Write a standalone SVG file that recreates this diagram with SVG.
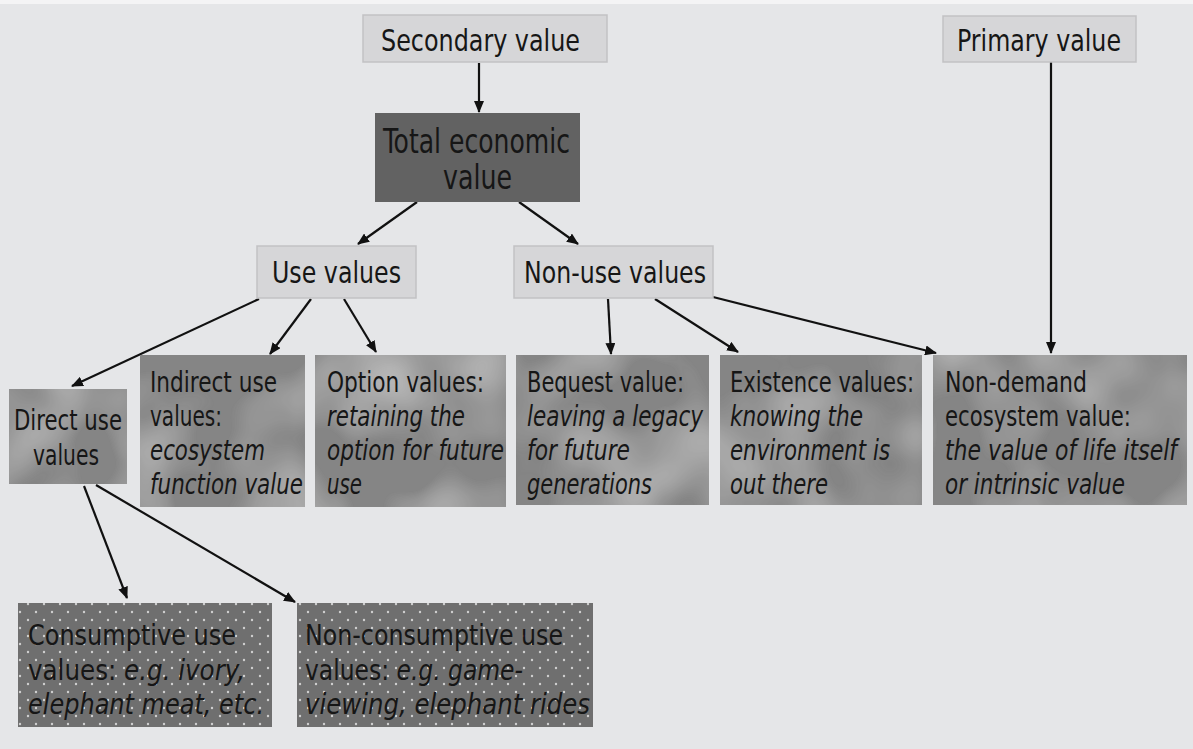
<svg xmlns="http://www.w3.org/2000/svg" width="1193" height="749" viewBox="0 0 1193 749">
  <defs>
    <style>
      .t { font-family: "Liberation Sans Narrow", "DejaVu Sans Condensed", "Liberation Sans", sans-serif; fill: #161616; }
      .h { font-size: 31px; }
      .b { font-size: 29px; }
      .i { font-style: italic; }
      .edge { stroke: #111; stroke-width: 2.2; fill: none; marker-end: url(#arrow); }
      .light { fill: #d6d6d8; stroke: #c2c2c4; stroke-width: 1.5; }
      .mid { fill: #858585; }
      .dark { fill: #626262; }
    </style>
    <marker id="arrow" viewBox="0 0 12 10" refX="11" refY="5" markerWidth="12" markerHeight="10" markerUnits="userSpaceOnUse" orient="auto">
      <path d="M0,0 L12,5 L0,10 z" fill="#111"/>
    </marker>
    <!-- soft cloudy shading for the value boxes -->
    <filter id="cloud" x="0" y="0" width="100%" height="100%">
      <feTurbulence type="fractalNoise" baseFrequency="0.012" numOctaves="2" seed="7" result="n"/>
      <feColorMatrix in="n" type="matrix" values="0 0 0 0 0.68  0 0 0 0 0.68  0 0 0 0 0.68  0 0 0 1.1 -0.42" result="w"/>
      <feComposite in="w" in2="SourceGraphic" operator="in" result="wi"/>
      <feMerge><feMergeNode in="SourceGraphic"/><feMergeNode in="wi"/></feMerge>
    </filter>
    <!-- dotted fill for the consumptive boxes -->
    <pattern id="dots" width="16" height="16" patternUnits="userSpaceOnUse">
      <rect width="16" height="16" fill="#6f6f6f"/>
      <circle cx="4" cy="4" r="1.2" fill="#d0d0d0"/>
      <circle cx="12" cy="12" r="1.2" fill="#d0d0d0"/>
    </pattern>
  </defs>

  <rect width="1193" height="749" fill="#e5e6e8"/>
  <rect width="1193" height="4" fill="#f4f4f5"/>

  <g id="connectors">
    <line class="edge" x1="479" y1="63" x2="479" y2="112"/>
    <line class="edge" x1="1051" y1="62" x2="1051" y2="353"/>
    <line class="edge" x1="417" y1="202" x2="358" y2="244"/>
    <line class="edge" x1="519" y1="202" x2="578" y2="244"/>
    <line class="edge" x1="259" y1="299" x2="72" y2="386"/>
    <line class="edge" x1="311" y1="299" x2="270" y2="354"/>
    <line class="edge" x1="344" y1="299" x2="376" y2="352"/>
    <line class="edge" x1="608" y1="299" x2="611" y2="354"/>
    <line class="edge" x1="655" y1="299" x2="738" y2="352"/>
    <line class="edge" x1="713" y1="297" x2="936" y2="353"/>
    <line class="edge" x1="84" y1="486" x2="127" y2="598"/>
    <line class="edge" x1="96" y1="485" x2="295" y2="602"/>
  </g>

  <g id="secondary-value">
    <rect class="light" x="363" y="15" width="244" height="47"/>
    <text class="t h" x="381" y="51" textLength="199" lengthAdjust="spacingAndGlyphs">Secondary value</text>
  </g>

  <g id="primary-value">
    <rect class="light" x="943" y="16" width="193" height="46"/>
    <text class="t h" x="957" y="51" textLength="164" lengthAdjust="spacingAndGlyphs">Primary value</text>
  </g>

  <g id="total-economic-value">
    <rect class="dark" x="375" y="113" width="205" height="89"/>
    <text class="t" style="font-size:34px" x="383" y="153" textLength="187" lengthAdjust="spacingAndGlyphs">Total economic</text>
    <text class="t" style="font-size:34px" x="443" y="189" textLength="69" lengthAdjust="spacingAndGlyphs">value</text>
  </g>

  <g id="use-values">
    <rect class="light" x="257" y="246" width="159" height="52"/>
    <text class="t h" x="272" y="283" textLength="129" lengthAdjust="spacingAndGlyphs">Use values</text>
  </g>

  <g id="non-use-values">
    <rect class="light" x="514" y="246" width="199" height="52"/>
    <text class="t h" x="524" y="283" textLength="182" lengthAdjust="spacingAndGlyphs">Non-use values</text>
  </g>

  <g id="direct-use-values">
    <rect class="mid" x="9" y="389" width="118" height="95" filter="url(#cloud)"/>
    <text class="t b" x="14" y="430" textLength="108" lengthAdjust="spacingAndGlyphs">Direct use</text>
    <text class="t b" x="33" y="465" textLength="66" lengthAdjust="spacingAndGlyphs">values</text>
  </g>

  <g id="indirect-use-values">
    <rect class="mid" x="140" y="355" width="165" height="152" filter="url(#cloud)"/>
    <text class="t b" x="150" y="392" textLength="127" lengthAdjust="spacingAndGlyphs">Indirect use</text>
    <text class="t b" x="150" y="426" textLength="72" lengthAdjust="spacingAndGlyphs">values:</text>
    <text class="t b i" x="150" y="460" textLength="115" lengthAdjust="spacingAndGlyphs">ecosystem</text>
    <text class="t b i" x="150" y="494" textLength="153" lengthAdjust="spacingAndGlyphs">function value</text>
  </g>

  <g id="option-values">
    <rect class="mid" x="315" y="355" width="191" height="152" filter="url(#cloud)"/>
    <text class="t b" x="327" y="392" textLength="157" lengthAdjust="spacingAndGlyphs">Option values:</text>
    <text class="t b i" x="327" y="426" textLength="138" lengthAdjust="spacingAndGlyphs">retaining the</text>
    <text class="t b i" x="327" y="460" textLength="177" lengthAdjust="spacingAndGlyphs">option for future</text>
    <text class="t b i" x="327" y="494" textLength="35" lengthAdjust="spacingAndGlyphs">use</text>
  </g>

  <g id="bequest-value">
    <rect class="mid" x="516" y="355" width="193" height="150" filter="url(#cloud)"/>
    <text class="t b" x="527" y="392" textLength="157" lengthAdjust="spacingAndGlyphs">Bequest value:</text>
    <text class="t b i" x="527" y="426" textLength="176" lengthAdjust="spacingAndGlyphs">leaving a legacy</text>
    <text class="t b i" x="527" y="460" textLength="103" lengthAdjust="spacingAndGlyphs">for future</text>
    <text class="t b i" x="527" y="494" textLength="125" lengthAdjust="spacingAndGlyphs">generations</text>
  </g>

  <g id="existence-values">
    <rect class="mid" x="720" y="355" width="202" height="150" filter="url(#cloud)"/>
    <text class="t b" x="730" y="392" textLength="184" lengthAdjust="spacingAndGlyphs">Existence values:</text>
    <text class="t b i" x="730" y="426" textLength="133" lengthAdjust="spacingAndGlyphs">knowing the</text>
    <text class="t b i" x="730" y="460" textLength="160" lengthAdjust="spacingAndGlyphs">environment is</text>
    <text class="t b i" x="730" y="494" textLength="98" lengthAdjust="spacingAndGlyphs">out there</text>
  </g>

  <g id="non-demand-value">
    <rect class="mid" x="933" y="355" width="254" height="150" filter="url(#cloud)"/>
    <text class="t b" x="945" y="392" textLength="142" lengthAdjust="spacingAndGlyphs">Non-demand</text>
    <text class="t b" x="945" y="426" textLength="186" lengthAdjust="spacingAndGlyphs">ecosystem value:</text>
    <text class="t b i" x="945" y="460" textLength="232" lengthAdjust="spacingAndGlyphs">the value of life itself</text>
    <text class="t b i" x="945" y="494" textLength="180" lengthAdjust="spacingAndGlyphs">or intrinsic value</text>
  </g>

  <g id="consumptive-use-values">
    <rect x="18" y="603" width="254" height="124" fill="url(#dots)"/>
    <text class="t b" x="28" y="645" textLength="208" lengthAdjust="spacingAndGlyphs">Consumptive use</text>
    <text class="t b" x="28" y="680" textLength="217" lengthAdjust="spacingAndGlyphs">values: <tspan class="i">e.g. ivory,</tspan></text>
    <text class="t b i" x="28" y="714" textLength="236" lengthAdjust="spacingAndGlyphs">elephant meat, etc.</text>
  </g>

  <g id="non-consumptive-use-values">
    <rect x="297" y="603" width="296" height="124" fill="url(#dots)"/>
    <text class="t b" x="305" y="645" textLength="258" lengthAdjust="spacingAndGlyphs">Non-consumptive use</text>
    <text class="t b" x="305" y="680" textLength="218" lengthAdjust="spacingAndGlyphs">values: <tspan class="i">e.g. game-</tspan></text>
    <text class="t b i" x="305" y="714" textLength="285" lengthAdjust="spacingAndGlyphs">viewing, elephant rides</text>
  </g>
</svg>
